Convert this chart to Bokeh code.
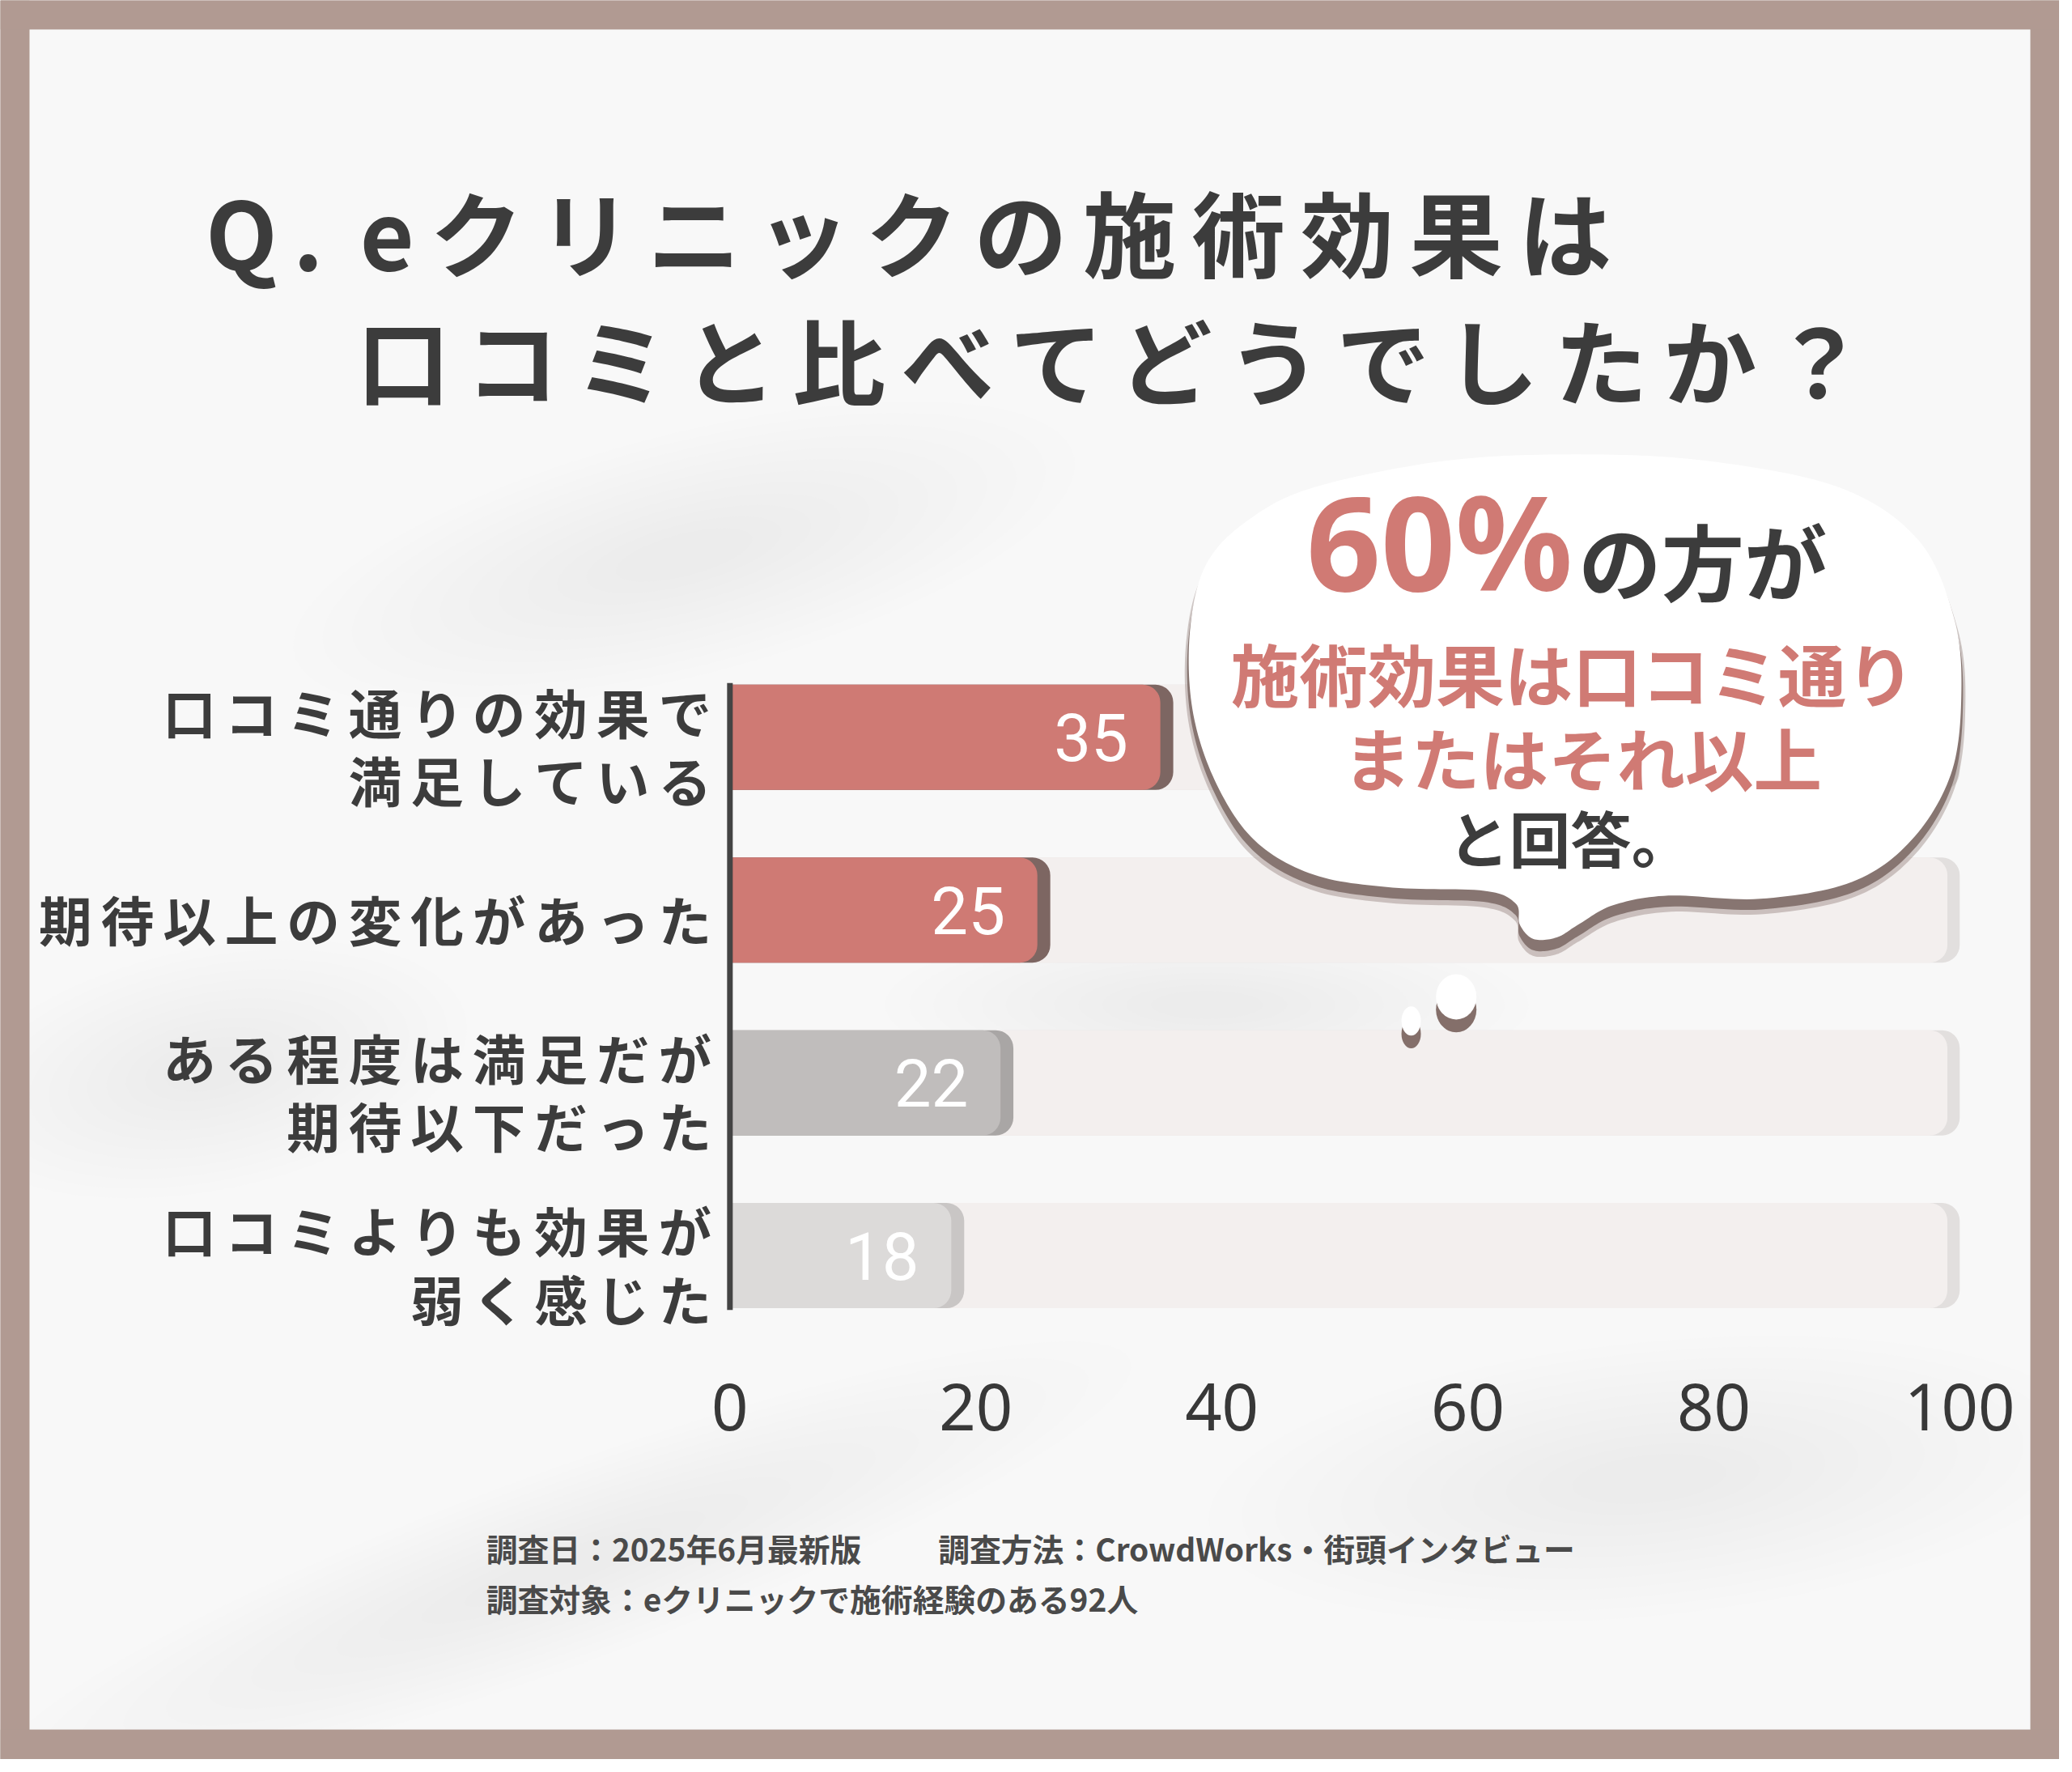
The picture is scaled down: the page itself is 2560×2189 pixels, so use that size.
import numpy as np
from bokeh.plotting import figure
from bokeh.models import Range1d
from bokeh.core.properties import value
from bokeh.embed import file_html
from bokeh.resources import INLINE

# ---------------- data ----------------
categories = ["口コミ通りの効果で\n満足している",
              "期待以上の変化があった",
              "ある程度は満足だが\n期待以下だった",
              "口コミよりも効果が\n弱く感じた"]
values = [35, 25, 22, 18]
bar_colors = ["#cf7a74", "#cf7a74", "#c0bdbc", "#dcdad9"]
shadow_colors = ["#7d6662", "#7d6662", "#a9a6a5", "#c9c6c5"]
x_ticks = [0, 20, 40, 60, 80, 100]
x_tick_labels = ["0", "20", "40", "60", "80", "100"]
axis_max = 100
title_lines = ["Q. eクリニックの施術効果は", "口コミと比べてどうでしたか？"]
callout_big = "60%"
callout_small = "の方が"
callout_lines = ["施術効果は口コミ通り", "またはそれ以上"]
callout_end = "と回答。"
footer_date = "調査日：2025年6月最新版"
footer_method = "調査方法：CrowdWorks・街頭インタビュー"
footer_target = "調査対象：eクリニックで施術経験のある92人"

# ---------------- geometry helpers ----------------
W, H = 2544, 2173            # figure size (page has an 8px margin)
RW, RH = 2560.0, 2189.0      # layout designed on a 2560x2189 sheet
X0, PXU = 907.0, 15.29       # sheet px of value 0, sheet px per unit
Y0, PXR = 917.0, 215.0       # sheet px of first row centre, sheet px per row
SX, SY = W / RW, H / RH


def XR(o):  # sheet pixel -> data x
    return (np.asarray(o, float) - X0) / PXU


def YR(o):  # sheet pixel -> data y (row units)
    return (np.asarray(o, float) - Y0) / PXR


def px(n):
    return f"{n * SX:.1f}px"


BORDER = "#b19a92"
SALMON = "#d07a74"
DARK = "#3c3c3c"
JP = value("Noto Sans CJK JP")

p = figure(width=W, height=H, x_range=Range1d(float(XR(0)), float(XR(RW))),
           y_range=Range1d(float(YR(RH)), float(YR(0))),
           output_backend="svg", toolbar_location=None, min_border=0,
           x_axis_location=None, y_axis_location=None,
           background_fill_color=BORDER, border_fill_color=BORDER)
p.outline_line_color = None
p.xgrid.grid_line_color = None
p.ygrid.grid_line_color = None

# inner panel
p.quad(left=[XR(36)], right=[XR(2524)], top=[YR(36)], bottom=[YR(2152)],
       fill_color="#f8f8f8", line_color=None)

# soft background shadows
blobs = [(850, 690, 1000, 300, 0.25), (260, 1330, 650, 300, 0.2), (700, 1950, 1500, 240, 0.35),
         (2050, 1840, 1100, 340, 0.1), (1500, 1250, 800, 200, 0.0)]
for (bx, by, bw, bh, ang) in blobs:
    for k in range(12):
        f = 1.0 - k * 0.075
        p.ellipse(x=[XR(bx)], y=[YR(by)], width=[bw * f * SX], height=[bh * f * SY], angle=ang,
                  width_units="screen", height_units="screen",
                  fill_color="#d2d2d2", fill_alpha=0.025, line_color=None)

rows = list(range(len(categories)))
BAR_H = 131.0 / PXR
RAD = (0, 22, 22, 0)

# tracks
p.hbar(y=rows, left=0, right=axis_max, height=BAR_H, fill_color="#e2dfde",
       line_color=None, border_radius=RAD)
p.hbar(y=rows, left=0, right=axis_max - 1, height=BAR_H, fill_color="#f3efee",
       line_color=None, border_radius=RAD)

# bars (shadow + main)
p.hbar(y=rows, left=0, right=[v + 1.05 for v in values], height=BAR_H,
       fill_color=shadow_colors, line_color=None, border_radius=RAD)
p.hbar(y=rows, left=0, right=values, height=BAR_H,
       fill_color=bar_colors, line_color=None, border_radius=RAD)

# value labels
p.text(x=[v - 40 / PXU for v in values], y=rows, text=[str(v) for v in values],
       text_align="right", text_baseline="middle", text_color="white",
       text_font=value("Roboto"), text_font_size=px(82))

# axis line
p.segment(x0=[0], y0=[-BAR_H / 2 - 0.01], x1=[0], y1=[rows[-1] + BAR_H / 2 + 0.01],
          line_color="#444444", line_width=7)

# tick labels
p.text(x=x_ticks, y=[YR(1750)] * len(x_ticks), text=x_tick_labels, text_align="center",
       text_baseline="middle", text_color="#383838", text_font=value("Noto Sans"),
       text_font_size=px(80))

# category labels (letter-spaced)
SP6 = "\u2006"
for i, cat in enumerate(categories):
    lines = cat.split("\n")
    n = len(lines)
    for j, line in enumerate(lines):
        yy = i + (10 + (j - (n - 1) / 2) * 85) / PXR
        p.text(x=[XR(884)], y=[yy], text=[SP6.join(line)], text_align="right",
               text_baseline="middle", text_color=DARK, text_font=JP,
               text_font_size=px(66), text_font_style="bold")


# title
def spaced(s):
    return SP6.join(s).replace(SP6 + " " + SP6, " " + SP6)


p.text(x=[XR(255)], y=[YR(285)], text=[spaced(title_lines[0])], text_align="left",
       text_baseline="middle", text_color=DARK, text_font=JP, text_font_size=px(116),
       text_font_style="bold")
p.text(x=[XR(443)], y=[YR(444)], text=[spaced(title_lines[1])], text_align="left",
       text_baseline="middle", text_color=DARK, text_font=JP, text_font_size=px(116),
       text_font_style="bold")


# speech bubble
def catmull(pts, n=14):
    pts = np.asarray(pts, float)
    m = len(pts)
    out = []
    for i in range(m):
        p0, p1, p2, p3 = pts[(i - 1) % m], pts[i], pts[(i + 1) % m], pts[(i + 2) % m]
        for t in np.linspace(0, 1, n, endpoint=False):
            t2, t3 = t * t, t * t * t
            out.append(0.5 * ((2 * p1) + (-p0 + p2) * t + (2 * p0 - 5 * p1 + 4 * p2 - p3) * t2
                              + (-p0 + 3 * p1 - 3 * p2 + p3) * t3))
    return np.array(out)


bubble_pts = [(1633, 606), (1796, 573), (1959, 565), (2122, 573), (2286, 606), (2384, 671),
              (2429, 769), (2438, 865), (2425, 963), (2376, 1045), (2302, 1097), (2188, 1118),
              (2074, 1114), (2005, 1126), (1962, 1150), (1935, 1166), (1906, 1168), (1889, 1150),
              (1884, 1124), (1845, 1108), (1731, 1104), (1633, 1088), (1559, 1045), (1510, 971),
              (1482, 882), (1479, 784), (1499, 702), (1551, 647)]
curve = catmull(bubble_pts)
cx, cy = curve[:, 0].mean(), curve[:, 1].mean()
dv = curve - np.array([cx, cy])
nrm = np.hypot(dv[:, 0], dv[:, 1])[:, None]
sh = curve + dv / nrm * 5 + np.array([0, 16])
p.patch(x=XR(sh[:, 0]), y=YR(sh[:, 1]), fill_color="#8b7873", fill_alpha=0.4, line_color=None)
sh2 = curve + dv / nrm * 2 + np.array([0, 12])
p.patch(x=XR(sh2[:, 0]), y=YR(sh2[:, 1]), fill_color="#806d68", fill_alpha=0.9, line_color=None)
p.patch(x=XR(curve[:, 0]), y=YR(curve[:, 1]), fill_color="#ffffff", line_color=None)

# droplets
drops = [(1810, 1240, 50, 56), (1754, 1270, 24, 36)]
for (dx, dy, dw, dh) in drops:
    p.ellipse(x=[XR(dx)], y=[YR(dy + 16)], width=[dw], height=[dh], width_units="screen",
              height_units="screen", fill_color="#846f6a", line_color=None)
    p.ellipse(x=[XR(dx)], y=[YR(dy)], width=[dw], height=[dh], width_units="screen",
              height_units="screen", fill_color="#ffffff", line_color=None)

# bubble texts
p.text(x=[XR(1955)], y=[YR(672)], text=[callout_big], text_align="right",
       text_baseline="middle", text_color=SALMON, text_font=value("Noto Sans"),
       text_font_size=px(162), text_font_style="bold")
p.text(x=[XR(1962)], y=[YR(695)], text=[callout_small], text_align="left",
       text_baseline="middle", text_color=DARK, text_font=JP,
       text_font_size=px(103), text_font_style="bold")
p.text(x=[XR(1955), XR(1967)], y=[YR(836), YR(940)], text=callout_lines, text_align="center",
       text_baseline="middle", text_color=SALMON, text_font=JP,
       text_font_size=px(85), text_font_style="bold")
p.text(x=[XR(1952)], y=[YR(1040)], text=[callout_end], text_align="center",
       text_baseline="middle", text_color=DARK, text_font=JP,
       text_font_size=px(76), text_font_style="bold")

# footer
p.text(x=[XR(604), XR(1166), XR(604)], y=[YR(1926), YR(1926), YR(1988)],
       text=[footer_date, footer_method, footer_target], text_align="left",
       text_baseline="middle", text_color="#4a4a4a", text_font=JP,
       text_font_size=px(39), text_font_style="bold")

# border frame on top
for (l, r, t, b) in [(0, 36, 0, RH), (2524, RW, 0, RH), (0, RW, 0, 36), (0, RW, 2152, RH)]:
    p.quad(left=[XR(l)], right=[XR(r)], top=[YR(t)], bottom=[YR(b)],
           fill_color=BORDER, line_color=None)

open("out.html", "w").write(file_html(p, INLINE))
